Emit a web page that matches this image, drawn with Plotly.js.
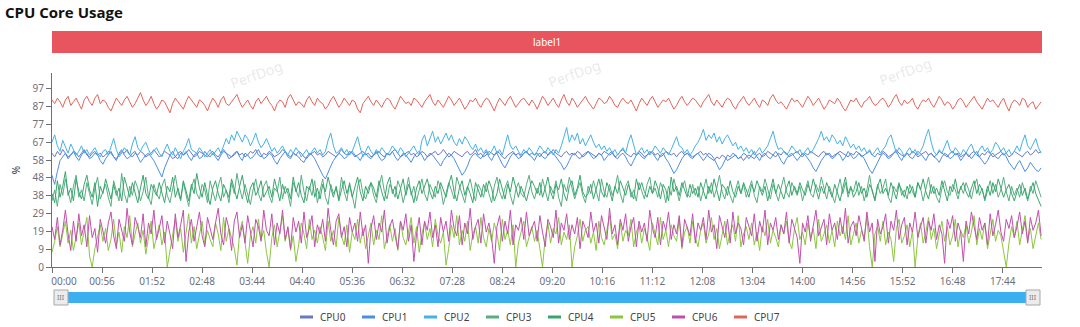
<!DOCTYPE html>
<html>
<head>
<meta charset="utf-8">
<script src="https://cdn.plot.ly/plotly-3.0.1.min.js"></script>
<style>html,body{margin:0;padding:0;background:#fff;}#chart{width:1080px;height:327px;}</style>
</head>
<body>
<div id="chart"></div>
<script>
// ---- data (one sample every STEP seconds) ----
const STEP = 3;
const seriesNames = ['CPU0','CPU1','CPU2','CPU3','CPU4','CPU5','CPU6','CPU7'];
const seriesColors = ['#6b78c6','#4a8fe2','#45b2e6','#5aae84','#37a66c','#8cc63f','#c14fac','#e0665c'];

const xTickLabels = ['00:00','00:56','01:52','02:48','03:44','04:40','05:36','06:32','07:28','08:24','09:20','10:16','11:12','12:08','13:04','14:00','14:56','15:52','16:48','17:44'];
const yTickValues = [0,9.7,19.4,29.1,38.8,48.5,58.2,67.9,77.6,87.3,97];
const yTickLabels = ['0','9','19','29','38','48','58','67','77','87','97'];

const cpu0 = [
62,60,63,61,64,62,60,61,63,62,60,62,64,61,60,62,63,61,62,60,
61,63,62,60,59,61,63,62,64,61,60,62,61,63,62,60,61,62,64,62,
60,61,63,62,61,59,60,62,63,61,62,64,62,60,61,63,62,61,60,62,
63,61,60,62,64,62,61,60,62,63,61,62,60,61,63,62,64,61,60,62,
61,63,62,60,61,62,64,63,61,60,62,61,63,62,60,59,61,62,63,61,
62,60,61,63,62,61,60,62,64,62,61,63,62,60,61,62,63,61,62,60,
61,62,63,61,60,62,61,63,64,62,60,61,62,63,61,62,60,61,63,62,
60,61,62,63,61,62,64,62,60,61,63,62,61,60,62,63,61,62,64,61,
62,60,61,63,62,61,63,62,60,59,61,62,63,61,62,60,62,63,61,62,
61,62,60,62,63,61,62,64,62,61,60,62,63,61,62,61,63,62,60,61,
63,62,61,60,62,61,63,62,61,62,60,61,63,64,62,61,60,62,61,63,
62,60,61,62,63,61,62,60,61,63,62,61,62,60,62,63,61,62,61,60,
61,62,63,61,62,60,59,58,60,59,61,60,58,59,60,61,59,60,58,60,
61,60,59,61,62,60,61,63,62,61,60,62,61,63,62,60,61,62,63,61,
60,62,61,63,62,61,60,62,63,61,62,60,61,62,63,62,61,60,62,61,
63,62,60,61,62,63,61,60,62,61,63,62,60,61,62,64,62,61,60,62,
61,63,62,60,61,62,63,61,62,60,61,63,62,61,60,62,63,61,62,60,
61,62,60,62,63,61,60,62,61,63,62,60,61,62,63,61,62,60,61,63,
62,61,60,62,63,61,62,64,62,63];

const cpu1 = [
50,45,52,58,60,62,59,61,63,60,58,61,63,62,59,60,62,61,58,56,
59,61,63,60,58,62,64,61,59,60,62,63,60,57,59,61,62,60,58,55,
52,49,54,58,61,63,60,59,62,61,63,60,58,61,62,59,60,63,61,60,
62,60,58,61,63,62,59,60,61,63,60,58,62,61,59,60,62,64,61,59,
60,62,61,58,56,59,61,63,60,59,62,61,60,58,57,60,62,61,59,56,
53,50,48,52,55,58,60,62,61,59,60,62,63,61,60,58,61,62,60,59,
61,63,60,58,59,62,61,63,60,58,60,62,61,59,57,60,62,63,61,58,
60,62,61,59,57,55,58,60,62,61,59,56,53,50,52,55,59,61,62,60,
59,61,63,60,58,61,62,59,56,54,57,60,62,61,59,60,62,63,61,60,
58,61,62,60,59,61,63,62,60,58,56,53,55,58,61,62,60,59,61,62,
63,61,59,60,62,61,58,60,62,63,60,59,61,62,60,57,55,58,61,62,
60,59,61,63,62,60,58,61,62,59,57,54,51,53,56,59,61,62,60,59,
61,62,60,58,60,62,61,59,56,53,55,58,61,60,62,61,59,60,62,61,
59,61,63,60,58,61,62,60,59,61,63,61,58,56,59,61,62,60,58,60,
62,61,59,57,54,52,55,58,60,62,61,59,60,62,61,58,60,63,61,59,
60,62,61,59,56,53,51,54,57,60,62,61,59,60,62,63,60,58,61,62,
60,59,61,63,62,60,58,61,62,60,59,57,60,62,61,59,60,62,61,58,
60,62,61,59,61,63,60,58,56,58,61,62,60,59,61,62,60,57,55,53,
56,58,55,52,54,57,55,53,52,54];

const cpu2 = [
68,72,66,63,69,65,62,67,64,61,63,66,62,64,61,63,65,62,60,63,
64,61,66,70,64,60,62,65,63,61,67,71,65,63,66,68,64,61,63,65,
62,60,64,67,63,61,65,62,59,63,66,70,64,63,62,65,63,60,62,64,
61,63,65,62,66,70,67,72,69,74,71,68,72,70,66,69,73,68,65,67,
70,66,63,65,62,64,66,63,61,64,62,65,63,60,62,64,61,63,65,62,
64,61,63,69,73,66,62,63,65,62,64,61,63,67,71,65,60,63,66,63,
61,64,62,65,63,61,63,66,64,62,65,63,60,62,64,66,63,61,69,72,
66,70,74,68,71,67,70,73,69,72,68,66,70,67,71,69,66,64,67,63,
65,62,64,61,63,66,62,64,61,67,72,66,64,66,63,61,64,62,65,63,
61,63,66,64,62,65,63,61,64,62,66,71,76,68,72,69,73,67,70,66,
69,72,68,65,67,64,66,63,65,62,64,61,63,65,62,68,72,66,61,63,
65,62,64,61,63,66,64,62,65,63,61,64,68,71,66,65,62,64,61,63,
66,68,71,75,69,72,70,73,68,71,67,70,72,69,66,68,64,66,63,65,
62,64,61,63,65,62,64,66,70,74,68,64,65,63,61,63,66,64,62,64,
61,63,65,62,64,67,70,74,69,71,68,72,70,67,69,66,71,68,65,67,
64,66,63,65,62,64,61,63,65,62,64,66,70,72,67,62,65,63,60,63,
65,62,64,61,63,66,71,75,68,63,61,64,62,66,69,64,62,65,63,61,
64,62,65,67,63,61,64,66,63,65,62,64,68,66,63,65,62,64,61,63,
66,63,68,72,66,64,67,70,65,62];

const cpu3 = [
36,42,33,45,39,48,41,35,44,50,38,42,36,46,40,34,43,49,37,41,
45,38,33,47,42,36,51,40,35,44,39,47,43,36,41,49,38,34,45,40,
37,44,48,39,35,42,50,41,36,46,39,33,43,48,40,37,45,42,35,47,
41,36,44,49,38,42,35,46,40,51,43,37,45,39,34,42,48,40,36,44,
47,39,35,43,41,49,37,44,40,33,46,42,38,50,41,36,44,39,47,35,
42,48,38,34,45,40,43,37,49,41,36,46,39,32,44,48,40,37,43,46,
39,35,44,50,41,37,45,42,38,47,43,35,41,49,39,44,36,42,48,40,
36,45,41,38,47,43,34,40,46,42,37,49,44,39,35,43,48,41,36,45,
42,38,46,40,35,44,49,41,37,43,47,39,34,42,46,40,38,45,50,41,
37,43,39,48,42,36,44,40,47,38,33,45,41,49,43,37,42,46,39,35,
44,40,47,42,36,48,41,38,45,39,43,50,40,35,44,47,38,42,36,46,
41,37,45,49,40,43,38,46,42,35,44,39,48,41,36,43,47,40,38,45,
39,44,36,42,48,40,46,38,43,50,41,37,44,39,35,42,47,40,45,38,
43,47,39,35,44,41,48,42,37,45,40,36,43,49,41,38,46,42,39,44,
36,42,47,40,38,45,41,49,43,37,44,39,35,42,48,40,46,38,43,41,
47,39,44,36,42,50,41,37,45,40,43,48,38,35,44,41,46,39,42,37,
45,41,38,46,43,36,42,49,40,44,38,35,43,47,41,39,45,42,37,44,
40,46,42,37,44,48,39,43,36,41,47,40,45,38,42,49,41,36,44,39,
43,38,46,41,36,44,40,47,42,38];

const cpu4 = [
40,35,47,38,44,52,39,43,36,48,41,37,45,50,42,38,46,33,44,40,
48,42,37,45,39,43,36,49,44,38,46,41,35,43,50,40,37,45,42,39,
46,40,35,44,41,49,38,43,37,47,42,36,45,40,51,43,38,46,39,34,
43,47,40,36,45,41,38,48,42,37,44,50,41,35,43,46,39,42,47,38,
41,44,38,48,42,36,45,40,43,37,49,41,46,39,35,44,42,48,38,43,
37,45,41,49,43,38,44,36,42,47,40,45,38,43,49,41,36,44,40,46,
43,38,47,41,36,45,49,40,44,37,42,48,39,45,41,35,43,47,40,44,
48,41,37,44,40,46,42,38,45,50,41,36,43,47,39,44,40,35,46,42,
38,45,41,47,43,36,40,48,42,37,45,41,49,43,38,44,40,36,42,47,
44,40,46,38,43,49,41,37,45,42,48,40,36,44,47,39,43,50,41,38,
40,45,37,43,48,41,38,46,42,36,44,40,47,43,39,45,41,37,48,42,
46,41,38,44,40,47,43,37,45,42,36,49,41,44,39,46,42,38,45,40,
43,38,46,41,37,44,40,48,42,36,45,43,39,47,41,38,44,40,46,42,
38,45,41,47,43,39,44,36,42,48,40,45,41,37,43,47,39,44,40,46,
42,39,45,41,48,43,37,44,40,46,42,38,45,41,36,43,49,40,44,38,
41,46,40,43,38,45,42,36,44,48,40,43,39,46,41,37,45,42,38,44,
40,44,38,46,42,48,41,37,45,40,43,39,47,42,36,44,41,48,40,43,
46,41,38,43,47,40,45,42,37,44,39,46,41,48,43,38,42,45,40,36,
41,45,39,43,37,42,46,40,36,33];

const cpu5 = [
8,14,22,11,18,25,13,20,9,16,24,12,19,27,6,0,10,17,23,14,
21,9,15,26,12,19,8,22,16,28,11,18,24,13,20,7,15,25,10,17,
23,12,19,0,9,16,26,14,21,8,18,29,13,22,10,17,25,12,20,15,
11,24,18,9,27,14,21,16,10,1,19,25,12,2,17,22,13,26,15,20,
8,0,16,23,11,19,28,14,21,9,17,3,12,24,18,10,26,15,20,13,
22,16,9,25,14,20,11,27,17,12,23,8,19,15,26,13,21,10,18,24,
12,20,15,28,10,17,23,14,21,9,25,16,12,19,27,13,22,8,18,24,
15,21,11,26,17,13,19,1,10,23,16,28,12,20,14,25,9,18,22,13,
27,16,11,21,14,24,18,9,26,15,20,12,23,0,13,19,25,11,17,22,
14,20,10,0,16,24,13,21,18,27,12,19,15,23,0,11,17,26,14,20,
22,13,19,9,25,16,12,21,28,15,18,10,24,14,20,17,26,11,19,23,
13,21,16,9,24,18,12,27,15,20,11,23,17,14,26,10,19,22,13,25,
16,11,20,24,13,18,27,15,21,10,17,25,12,19,23,14,28,11,18,22,
15,24,12,19,9,22,17,26,13,20,16,11,23,18,25,14,10,21,27,15,
19,12,24,16,21,10,26,14,18,23,13,20,11,25,17,22,15,28,12,19,
24,13,20,16,27,11,0,18,22,14,25,12,19,15,3,21,26,13,17,23,
11,20,0,16,24,13,19,27,15,21,10,18,25,14,22,12,17,26,11,20,
16,23,13,19,28,12,21,15,24,10,18,26,14,20,17,9,0,13,22,16,
25,12,19,28,14,21,10,17,24,15];

const cpu6 = [
22,15,27,12,20,31,18,9,25,14,29,17,23,11,28,16,21,8,26,19,
13,24,30,17,10,26,20,14,32,19,12,27,22,16,29,11,24,18,31,15,
21,28,13,25,18,10,29,16,23,31,3,19,26,14,22,30,17,11,27,20,
15,24,32,18,12,27,21,9,25,30,16,23,13,28,19,11,26,22,14,31,
20,17,29,12,24,18,31,15,22,10,27,19,25,13,30,16,21,28,11,23,
18,26,14,32,20,12,25,29,16,22,11,27,19,24,14,30,17,23,2,21,
28,15,24,19,31,13,22,26,17,10,25,20,29,14,23,3,18,27,12,25,
20,30,16,23,11,27,19,25,14,31,21,17,28,12,24,18,32,15,22,26,
13,29,19,24,16,2,22,28,14,25,18,31,12,23,20,27,15,30,17,21,
25,14,28,19,11,26,22,16,31,13,24,20,29,15,23,18,27,10,25,21,
16,30,19,24,13,28,21,15,32,18,23,12,26,20,29,14,22,27,11,25,
19,24,14,31,21,16,27,12,25,20,30,15,23,18,28,11,26,21,17,29,
13,24,20,27,15,31,19,23,10,28,22,16,26,13,30,18,24,21,12,27,
22,17,29,14,25,19,31,12,24,20,27,15,23,18,30,13,26,21,16,2,
24,19,28,14,23,31,17,21,26,12,29,20,24,15,27,18,32,13,22,25,
17,28,21,14,30,19,24,3,26,18,22,29,13,25,20,31,15,23,27,12,
24,19,30,16,22,27,13,25,20,29,15,23,18,2,26,21,28,14,24,19,
3,25,18,30,22,15,27,20,24,12,29,17,23,31,19,14,26,21,28,16,
22,30,18,25,13,27,20,24,31,17];

const cpu7 = [
91,89,92,90,87,91,93,88,90,92,89,86,91,93,90,88,92,94,89,91,
90,87,85,89,92,90,88,91,93,90,87,89,92,95,91,88,90,93,89,86,
88,91,90,87,84,89,92,90,88,86,90,93,91,89,87,91,90,88,85,89,
92,90,87,91,93,89,88,90,92,94,90,87,89,91,88,86,90,92,89,91,
93,90,88,85,89,91,90,87,92,94,91,88,90,89,87,91,93,90,88,92,
90,89,86,88,91,93,90,87,89,92,90,88,91,90,86,84,89,91,93,90,
88,91,89,87,90,92,91,88,86,90,93,91,89,90,88,92,91,89,87,90,
92,94,90,88,91,89,87,90,93,91,88,90,92,89,86,88,91,90,92,89,
87,90,92,91,88,85,89,92,90,88,91,93,90,87,89,91,92,90,88,91,
89,86,90,93,91,88,90,92,89,87,91,94,90,88,92,90,87,89,91,93,
90,88,86,89,92,91,89,90,93,91,88,87,90,92,90,89,91,88,85,89,
92,90,88,91,93,90,87,89,91,90,92,89,86,88,91,93,90,88,90,92,
91,89,87,90,92,94,90,88,91,89,87,90,92,91,88,86,89,91,93,90,
88,90,92,89,87,91,90,88,92,94,91,89,90,88,86,89,92,90,91,89,
87,90,93,91,88,90,92,89,86,88,91,90,89,92,90,87,85,88,91,90,
92,89,87,90,91,93,90,88,89,91,92,90,87,89,92,94,90,88,91,89,
90,92,88,86,89,91,90,92,89,87,90,93,91,88,90,89,86,88,91,92,
90,87,89,91,93,90,88,86,89,92,90,91,89,87,90,92,88,85,89,91,
90,88,92,91,87,89,90,86,88,90];

const seriesValues = [cpu0, cpu1, cpu2, cpu3, cpu4, cpu5, cpu6, cpu7];

// ---- build ----
function toSec(lbl){ const p = lbl.split(':'); return (+p[0])*60 + (+p[1]); }
const xTickVals = xTickLabels.map(toSec);
const maxLen = Math.max(...seriesValues.map(a => a.length));

const traces = seriesValues.map((vals, k) => ({
  type: 'scatter', mode: 'lines',
  name: seriesNames[k],
  x: vals.map((_, i) => i * STEP),
  y: vals,
  line: {color: seriesColors[k], width: 1},
  hoverinfo: 'skip'
}));

const FONT = '"Noto Sans", "Open Sans", sans-serif';
const axisColor = '#6e7079';

// helpers mapping pixel positions to paper coordinates
const PL = 52, PR = 1042, PT = 73, PB = 267;
const px = x => (x - PL) / (PR - PL);
const py = y => (PB - y) / (PB - PT);

const note = (x, y, text, font, extra) => Object.assign({
  xref: 'paper', yref: 'paper', x: px(x), y: py(y), text: text, showarrow: false,
  xanchor: 'center', yanchor: 'middle', font: font
}, extra || {});

const watermarks = [[256, 74], [574, 73], [905, 71]].map(([x, y]) =>
  note(x, y, 'PerfDog', {family: FONT, size: 14, color: 'rgba(150,150,150,0.22)'}, {textangle: -20}));

const layout = {
  width: 1080, height: 327,
  margin: {l: PL, r: 1080 - PR, t: PT, b: 327 - PB},
  paper_bgcolor: '#ffffff', plot_bgcolor: '#ffffff',
  font: {family: FONT, color: axisColor},
  title: {
    text: '<b>CPU Core Usage</b>', xref: 'container', yref: 'container',
    x: 5 / 1080, xanchor: 'left', y: 1 - 13 / 327, yanchor: 'middle',
    font: {family: '"Open Sans", "Noto Sans", sans-serif', size: 15, color: '#111'}
  },
  xaxis: {
    range: [0, (maxLen - 1) * STEP + 1], tickmode: 'array', tickvals: xTickVals, ticktext: xTickLabels,
    showline: true, linecolor: axisColor, linewidth: 1, ticks: 'outside', ticklen: 5, tickcolor: axisColor,
    showgrid: false, zeroline: false, tickfont: {size: 10, color: axisColor}, fixedrange: true
  },
  yaxis: {
    range: [0, 105.7], tickmode: 'array', tickvals: yTickValues, ticktext: yTickLabels,
    showline: true, linecolor: axisColor, linewidth: 1, ticks: 'outside', ticklen: 5, tickcolor: axisColor,
    showgrid: false, zeroline: false, tickfont: {size: 10, color: axisColor}, fixedrange: true,
    title: {text: '%', font: {size: 10, color: '#333'}, standoff: 10}
  },
  showlegend: true,
  legend: {
    orientation: 'h', xref: 'container', yref: 'container', x: 0.5, xanchor: 'center',
    y: 1 - 317 / 327, yanchor: 'middle', font: {size: 10, color: '#444'},
    entrywidth: 30, entrywidthmode: 'pixels', itemclick: false, itemdoubleclick: false,
    bgcolor: 'rgba(0,0,0,0)', traceorder: 'normal'
  },
  shapes: [
    // label bar
    {type: 'rect', xref: 'paper', yref: 'paper', x0: 0, x1: 1, y0: py(53), y1: py(31),
     fillcolor: '#e9555f', line: {width: 0}},
    // data zoom slider bar
    {type: 'rect', xref: 'paper', yref: 'paper', x0: px(60), x1: px(1034), y0: py(303), y1: py(292),
     fillcolor: '#3caff0', line: {width: 0}},
    // handles
    {type: 'rect', xref: 'paper', yref: 'paper', x0: px(54), x1: px(68), y0: py(305), y1: py(290),
     fillcolor: '#ececec', line: {color: '#a8a8a8', width: 1}},
    {type: 'rect', xref: 'paper', yref: 'paper', x0: px(1026), x1: px(1040), y0: py(305), y1: py(290),
     fillcolor: '#ececec', line: {color: '#a8a8a8', width: 1}}
  ],
  annotations: [
    note(547, 42, 'label1', {family: FONT, size: 10, color: '#ffffff'}),
    note(61, 297.5, 'III', {family: FONT, size: 7, color: '#777'}),
    note(1033, 297.5, 'III', {family: FONT, size: 7, color: '#777'}),
    ...watermarks
  ]
};

const LEGEND_STEP = 62, LEGEND_FIRST_SYMBOL_X = 300, FIRST_XLABEL_SHIFT = 12;
const parseT = s => { const m = /translate\(\s*([-\d.e]+)[\s,]+([-\d.e]+)\s*\)/.exec(s || ''); return m ? [+m[1], +m[2]] : [0, 0]; };

Plotly.newPlot('chart', traces, layout, {displayModeBar: false, staticPlot: true}).then(() => {
  // legend symbols: short thick bars like the original
  document.querySelectorAll('.legend .legendlines path').forEach(p => {
    p.setAttribute('d', 'M20,0h13');
    p.style.strokeWidth = '3px';
  });
  const items = Array.from(document.querySelectorAll('.legend .traces'));
  if (items.length) {
    const [x0] = parseT(items[0].getAttribute('transform'));
    items.forEach((g, i) => {
      const [, yi] = parseT(g.getAttribute('transform'));
      g.setAttribute('transform', `translate(${x0 + i * LEGEND_STEP},${yi})`);
    });
    const firstPath = items[0].querySelector('.legendlines path');
    const legendG = document.querySelector('.legend');
    if (firstPath && legendG) {
      const dx = LEGEND_FIRST_SYMBOL_X - firstPath.getBoundingClientRect().left;
      const [lx, ly] = parseT(legendG.getAttribute('transform'));
      legendG.setAttribute('transform', `translate(${lx + dx},${ly})`);
    }
  }
  // first x label sits slightly right of its tick, as in the original
  const firstTick = document.querySelector('.xtick text');
  if (firstTick) {
    const x = parseFloat(firstTick.getAttribute('x') || '0');
    firstTick.setAttribute('x', x + FIRST_XLABEL_SHIFT);
  }
});
</script>
</body>
</html>
